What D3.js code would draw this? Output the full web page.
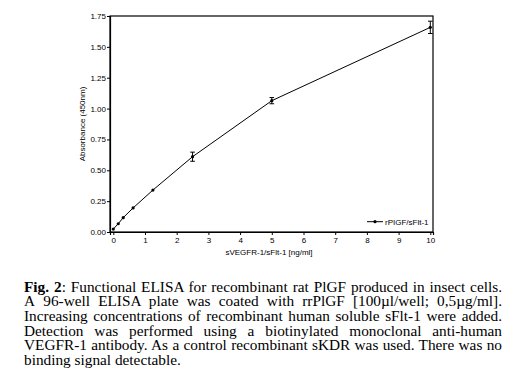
<!DOCTYPE html>
<html><head><meta charset="utf-8">
<script src="https://cdn.jsdelivr.net/npm/d3@7"></script>
<style>
html,body{margin:0;padding:0;background:#fff;}
#cap{position:absolute;left:24px;top:279.5px;width:478px;font-family:"Liberation Serif","Times New Roman",serif;font-size:15.3px;line-height:14.67px;color:#000;text-align:justify;}
</style></head><body>
<svg id="c" width="527" height="275" style="position:absolute;left:0;top:0"></svg>
<div id="cap"></div>
<script>
const conc = [0, 0.156, 0.3125, 0.625, 1.25, 2.5, 5, 10];
const absorb = [0.024, 0.067, 0.116, 0.195, 0.34, 0.61, 1.064, 1.658];
const errs = [0, 0, 0, 0, 0, 0.037, 0.025, 0.05];
const xTicks = [0,1,2,3,4,5,6,7,8,9,10];
const yTicks = [0,0.25,0.5,0.75,1,1.25,1.5,1.75];
const seriesName = "rPIGF/sFlt-1";
const captionLead = "Fig. 2";
const captionText = ": Functional ELISA for recombinant rat PlGF produced in insect cells. A\u00a096-\u2060well ELISA plate was coated with rrPlGF [100µl/well; 0,5µg/ml]. Increasing concentrations of recombinant human soluble sFlt-\u20601 were added. Detection was performed using a biotinylated monoclonal anti-\u2060human VEGFR-\u20601 antibody. As a control recombinant sKDR was used. There was no binding signal detectable.";

const cap = d3.select("#cap");
cap.append("b").text(captionLead);
cap.append("span").text(captionText);

const svg = d3.select("#c");
const L=110, R=433, T=16, B=232;
const x = d3.scaleLinear().domain([-0.104,10.085]).range([L,R]);
const y = d3.scaleLinear().domain([0,1.75]).range([B,T]);
const font = "Liberation Sans, Arial, sans-serif";

svg.append("rect").attr("x",L).attr("y",T).attr("width",R-L).attr("height",B-T)
  .attr("fill","none").attr("stroke","#000").attr("stroke-width",1.2);

const gx = svg.append("g").attr("transform",`translate(0,${B})`)
  .call(d3.axisBottom(x).tickValues(xTicks).tickSize(3).tickPadding(2).tickFormat(d3.format("d")));
const gy = svg.append("g").attr("transform",`translate(${L},0)`)
  .call(d3.axisLeft(y).tickValues(yTicks).tickSize(3).tickPadding(1).tickFormat(d3.format(".2f")));
[gx,gy].forEach(g=>{
  g.select(".domain").attr("stroke","#000").attr("stroke-width",1.2);
  g.selectAll(".tick line").attr("stroke","#000");
  g.selectAll("text").attr("font-family",font).attr("font-size",8).attr("fill","#000");
});

svg.append("text").attr("transform",`translate(85,${(T+B)/2}) rotate(-90)`)
  .attr("text-anchor","middle").attr("font-family",font).attr("font-size",8)
  .text("Absorbance (450nm)");
svg.append("text").attr("x",269).attr("y",254.5).attr("text-anchor","middle")
  .attr("font-family",font).attr("font-size",8).text("sVEGFR-1/sFlt-1 [ng/ml]");

const data = conc.map((c,i)=>({x:c,y:absorb[i],e:errs[i]}));
svg.append("path").datum(data).attr("fill","none").attr("stroke","#000").attr("stroke-width",1)
  .attr("d", d3.line().x(d=>x(d.x)).y(d=>y(d.y)));
const eb = svg.append("g").selectAll("g").data(data.filter(d=>d.e>0)).join("g");
eb.append("line").attr("x1",d=>x(d.x)).attr("x2",d=>x(d.x)).attr("y1",d=>y(d.y-d.e)).attr("y2",d=>y(d.y+d.e)).attr("stroke","#000");
eb.append("line").attr("x1",d=>x(d.x)-2.3).attr("x2",d=>x(d.x)+2.3).attr("y1",d=>y(d.y-d.e)).attr("y2",d=>y(d.y-d.e)).attr("stroke","#000");
eb.append("line").attr("x1",d=>x(d.x)-2.3).attr("x2",d=>x(d.x)+2.3).attr("y1",d=>y(d.y+d.e)).attr("y2",d=>y(d.y+d.e)).attr("stroke","#000");
svg.append("g").selectAll("circle").data(data).join("circle")
  .attr("cx",d=>x(d.x)).attr("cy",d=>y(d.y)).attr("r",1.6).attr("fill","#000");

svg.append("line").attr("x1",367).attr("x2",383).attr("y1",221.7).attr("y2",221.7).attr("stroke","#000");
svg.append("circle").attr("cx",375).attr("cy",221.7).attr("r",1.6).attr("fill","#000");
svg.append("text").attr("x",385).attr("y",224.5).attr("font-family",font).attr("font-size",8).text(seriesName);
</script>
</body></html>
